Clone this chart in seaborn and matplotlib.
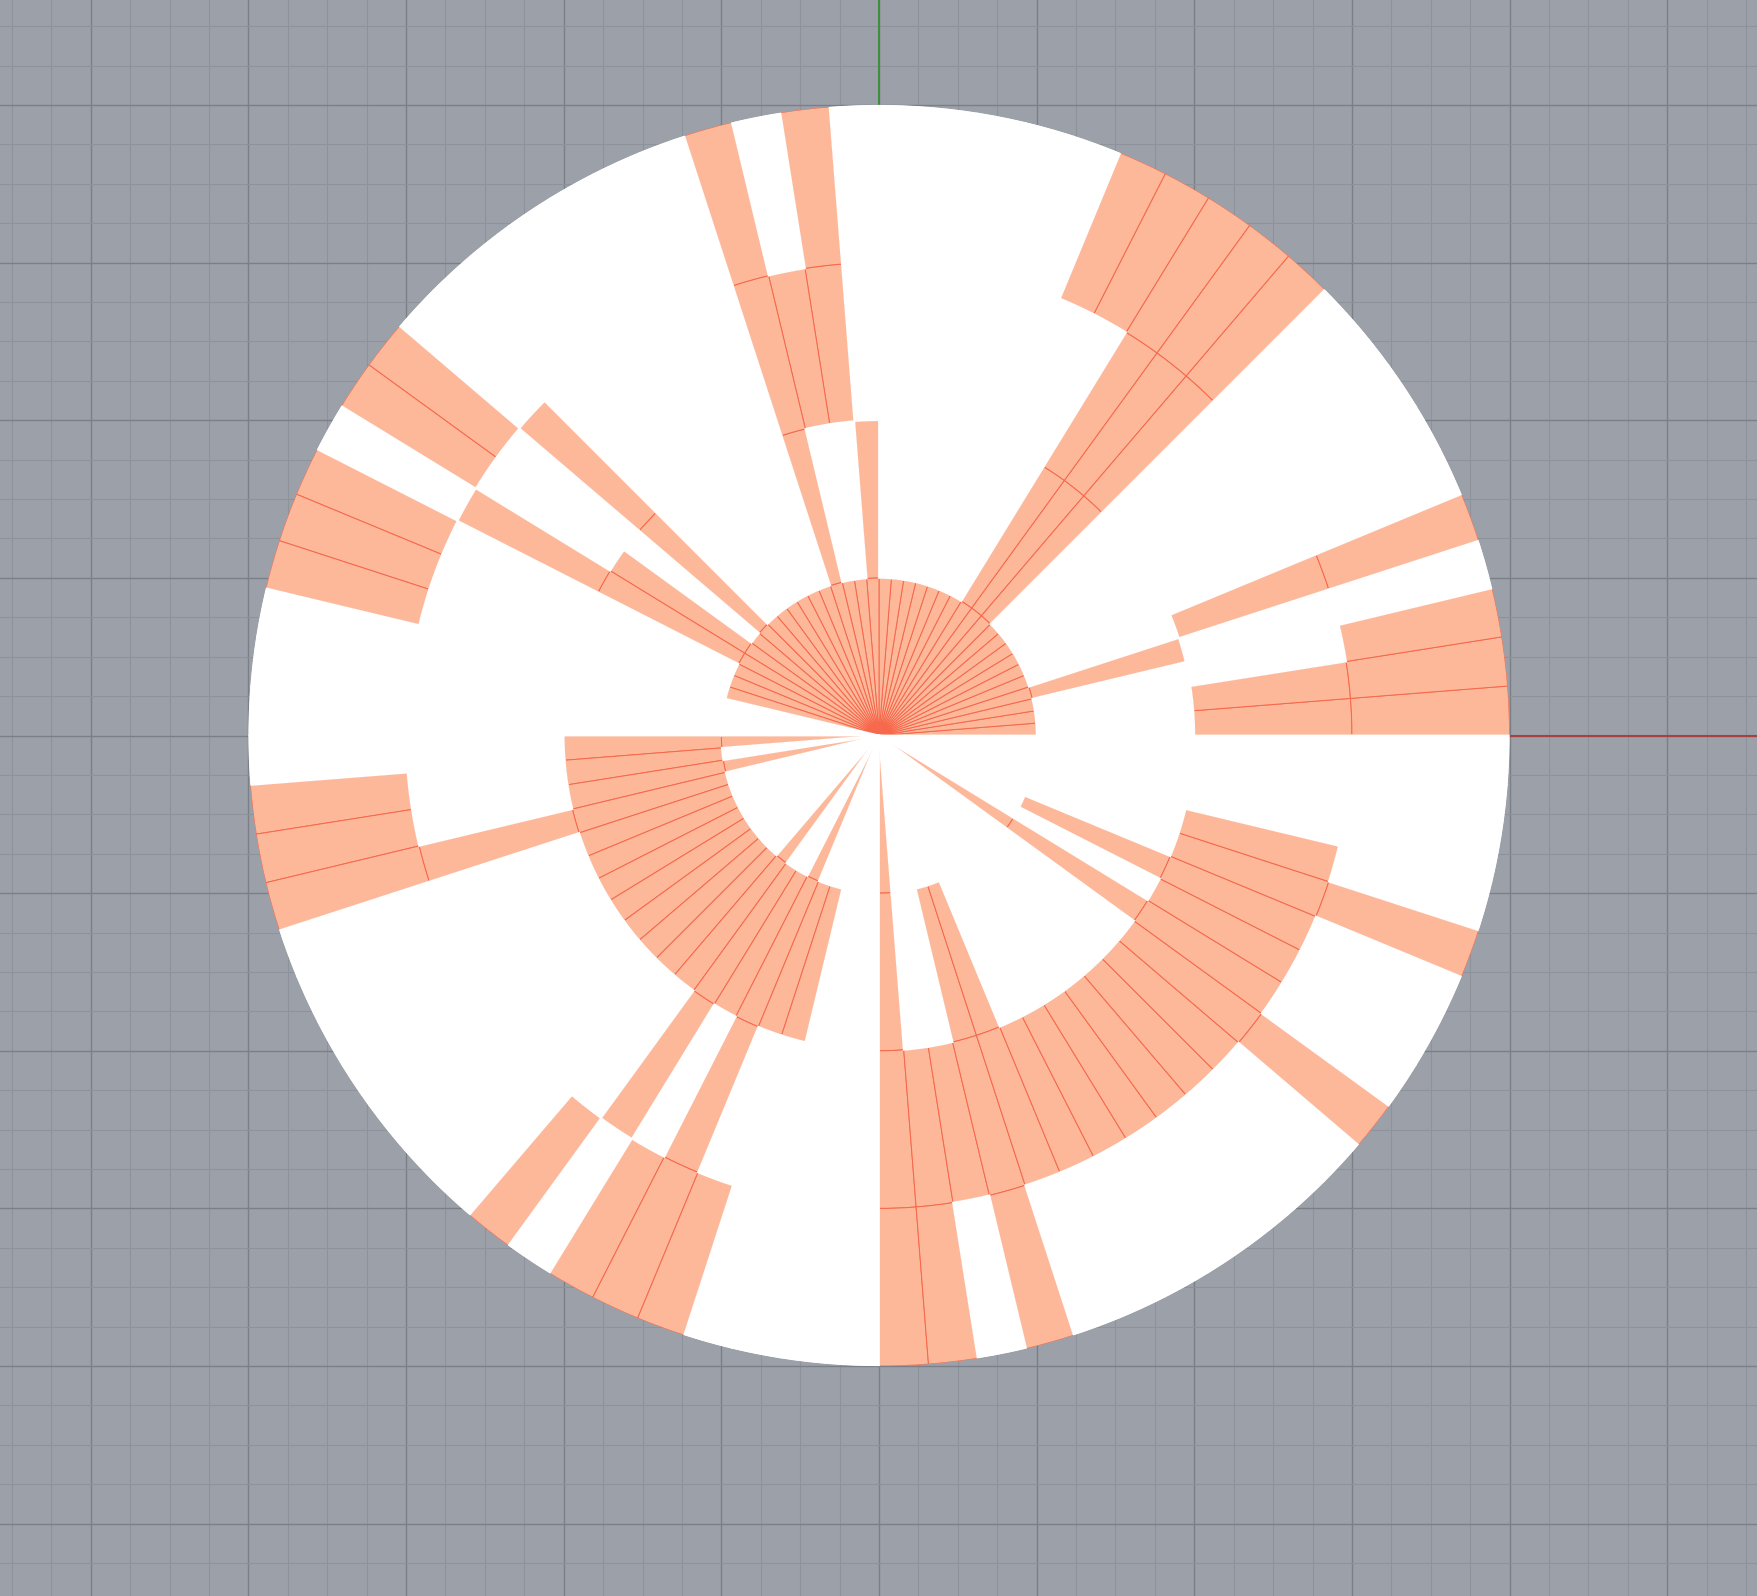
import numpy as np
import matplotlib
matplotlib.use("Agg")
import matplotlib.pyplot as plt
import seaborn as sns

# disk of 80 slots (4.5 deg each, counter-clockwise from +x), 4 unit rings
# 1 = filled cell, 0 = empty (white) cell
ring_0 = [1, 1, 1, 1, 1, 1, 1, 1, 1, 1,
          1, 1, 1, 1, 1, 1, 1, 1, 1, 1,
          1, 1, 1, 1, 1, 1, 1, 1, 1, 1,
          1, 1, 1, 1, 1, 1, 1, 0, 0, 0,
          1, 0, 1, 0, 0, 0, 0, 0, 0, 0,
          0, 1, 0, 0, 1, 0, 0, 0, 0, 0,
          1, 0, 0, 0, 0, 0, 0, 0, 0, 0,
          0, 0, 1, 0, 0, 0, 0, 0, 0, 0]
ring_1 = [0, 0, 0, 1, 0, 0, 0, 0, 0, 0,
          1, 1, 1, 0, 0, 0, 0, 0, 0, 0,
          1, 0, 0, 1, 0, 0, 0, 0, 0, 0,
          1, 0, 1, 1, 0, 0, 0, 0, 0, 0,
          1, 1, 1, 1, 1, 1, 1, 1, 1, 1,
          1, 1, 1, 1, 1, 1, 1, 0, 0, 0,
          1, 0, 0, 1, 1, 0, 0, 0, 0, 0,
          0, 0, 1, 0, 1, 0, 0, 0, 0, 0]
ring_2 = [1, 1, 0, 0, 1, 0, 0, 0, 0, 0,
          1, 1, 1, 0, 0, 0, 0, 0, 0, 0,
          0, 1, 1, 1, 0, 0, 0, 0, 0, 0,
          1, 0, 0, 1, 0, 0, 0, 0, 0, 0,
          0, 0, 0, 1, 0, 0, 0, 0, 0, 0,
          0, 0, 1, 0, 1, 0, 0, 0, 0, 0,
          1, 1, 1, 1, 1, 1, 1, 1, 1, 1,
          1, 1, 1, 1, 1, 1, 1, 0, 0, 0]
ring_3 = [1, 1, 1, 0, 1, 0, 0, 0, 0, 0,
          1, 1, 1, 1, 1, 0, 0, 0, 0, 0,
          0, 1, 0, 1, 0, 0, 0, 0, 0, 0,
          0, 1, 1, 0, 1, 1, 1, 0, 0, 0,
          0, 1, 1, 1, 0, 0, 0, 0, 0, 0,
          0, 1, 0, 1, 1, 1, 0, 0, 0, 0,
          1, 1, 0, 1, 0, 0, 0, 0, 0, 0,
          0, 1, 0, 0, 0, 1, 0, 0, 0, 0]
rings = [ring_0, ring_1, ring_2, ring_3]

sns.set_theme(style="white")

W, H, DPI = 1758, 1596, 100
unit = 157.64          # px per grid unit
cx, cy = 879.0, 735.5  # disk centre in px (from top-left)
R = 4                  # disk radius in grid units

bg_col = "#9CA1A9"
minor_col = "#8E939B"
major_col = "#7B7F88"
fill_col = "#FDB799"
edge_col = "#F7674B"

fig = plt.figure(figsize=(W / DPI, H / DPI), dpi=DPI, facecolor=bg_col)

# --- viewport background grid ---
bg = fig.add_axes([0, 0, 1, 1])
bg.set_facecolor(bg_col)
x0, x1 = -cx / unit, (W - cx) / unit
y0, y1 = -(H - cy) / unit, cy / unit
bg.set_xlim(x0, x1)
bg.set_ylim(y0, y1)
bg.set_xticks(np.arange(np.ceil(x0), x1, 1.0))
bg.set_yticks(np.arange(np.ceil(y0), y1, 1.0))
bg.set_xticks(np.arange(np.ceil(x0 * 4) / 4, x1, 0.25), minor=True)
bg.set_yticks(np.arange(np.ceil(y0 * 4) / 4, y1, 0.25), minor=True)
bg.grid(which="minor", color=minor_col, linewidth=0.8)
bg.grid(which="major", color=major_col, linewidth=1.0)
bg.tick_params(which="both", length=0, labelbottom=False, labelleft=False)
for s in bg.spines.values():
    s.set_visible(False)
bg.plot([0, x1], [0, 0], color="#A8403F", linewidth=1.5, zorder=3)
bg.plot([0, 0], [0, y1], color="#3E8E3E", linewidth=1.5, zorder=3)

# --- polar disk on top ---
rad_px = R * unit
ax = fig.add_axes([(cx - rad_px) / W, (H - cy - rad_px) / H,
                   2 * rad_px / W, 2 * rad_px / H], projection="polar")
ax.set_ylim(0, R)
ax.set_axis_off()

n_slots = len(ring_0)
width = 2 * np.pi / n_slots
theta = (np.arange(n_slots) + 0.5) * width

for r, cells in enumerate(rings):
    cells = np.array(cells, dtype=bool)
    ax.bar(theta[cells], 1, width=width, bottom=r, color=fill_col,
           edgecolor=edge_col, linewidth=0.7, zorder=1)
for r, cells in enumerate(rings):
    cells = np.array(cells, dtype=bool)
    ax.bar(theta[~cells], 1, width=width, bottom=r, color="white",
           edgecolor="white", linewidth=1.3, zorder=2)

fig.savefig("out.png", dpi=DPI, facecolor=bg_col)
